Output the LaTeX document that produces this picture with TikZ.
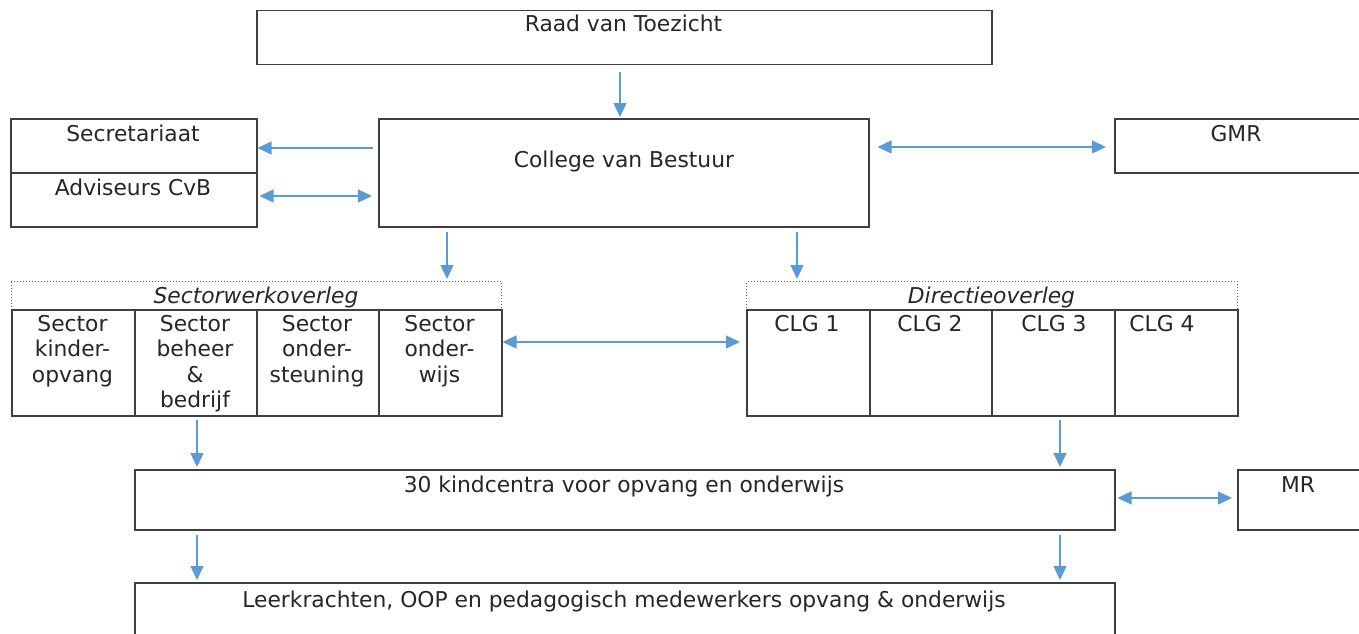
\documentclass[tikz,border=0pt]{standalone}
\usepackage{fontspec}
\setmainfont{DejaVu Sans}
\usetikzlibrary{arrows.meta}
\definecolor{arr}{HTML}{5B9BD5}
\definecolor{edge}{HTML}{3F3F3F}
\tikzset{
  box/.style={draw=edge, line width=1.5pt, inner sep=0pt, anchor=north west, fill=white},
  hdr/.style={draw=edge!80, dotted, line width=1pt, inner sep=0pt, anchor=north west},
  lbl/.style={font=\fontsize{21.8}{25.5}\selectfont, inner sep=0pt, align=center, anchor=base, text=black!85},
  mlbl/.style={lbl, anchor=north},
  ilbl/.style={lbl, font=\fontsize{21.8}{25.5}\selectfont\itshape},
  tip/.tip={Triangle[length=14pt,width=13pt]},
  conn/.style={draw=arr, line width=1.4pt, -tip},
  dconn/.style={draw=arr, line width=1.4pt, tip-tip},
}
\begin{document}
\begin{tikzpicture}[x=1pt,y=-1pt]
\useasboundingbox (0,0) rectangle (1359,634);
\clip (0,0) rectangle (1359,634);
% boxes
\node[box, minimum width=735pt, minimum height=54pt] (raad) at (256,10) {};
\node[box, minimum width=246pt, minimum height=54pt] (sec) at (10,118) {};
\node[box, minimum width=246pt, minimum height=54pt] (adv) at (10,172) {};
\node[box, minimum width=490pt, minimum height=108pt] (cvb) at (378,118) {};
\node[box, minimum width=246pt, minimum height=54pt] (gmr) at (1114,118) {};
% sector group
\node[hdr, minimum width=490pt, minimum height=28pt] (sw) at (11,281) {};
\node[box, minimum width=123pt, minimum height=106pt] (s1) at (11,309) {};
\node[box, minimum width=122pt, minimum height=106pt] (s2) at (134,309) {};
\node[box, minimum width=122pt, minimum height=106pt] (s3) at (256,309) {};
\node[box, minimum width=123pt, minimum height=106pt] (s4) at (378,309) {};
% directie group
\node[hdr, minimum width=491pt, minimum height=28pt] (do) at (746,281) {};
\node[box, minimum width=123pt, minimum height=106pt] (c1) at (746,309) {};
\node[box, minimum width=122pt, minimum height=106pt] (c2) at (869,309) {};
\node[box, minimum width=123pt, minimum height=106pt] (c3) at (991,309) {};
\node[box, minimum width=123pt, minimum height=106pt] (c4) at (1114,309) {};
% lower boxes
\node[box, minimum width=980pt, minimum height=60pt] (kc) at (134,469) {};
\node[box, minimum width=130pt, minimum height=60pt] (mr) at (1237,469) {};
\node[box, minimum width=980pt, minimum height=70pt] (leer) at (134,582) {};
% labels
\node[lbl] (traad) at (623.5,32) {Raad van Toezicht};
\node[lbl] (tsec) at (133,141) {Secretariaat};
\node[lbl] (tadv) at (133,195) {Adviseurs CvB};
\node[lbl] (tcvb) at (624,167) {College van Bestuur};
\node[lbl] (tgmr) at (1236,141) {GMR};
\node[ilbl] (tsw) at (256,303) {Sectorwerkoverleg};
\node[ilbl] (tdo) at (991.5,303) {Directieoverleg};
\node[mlbl] (ts1) at (72.5,315) {Sector\\kinder-\\opvang};
\node[mlbl] (ts2) at (195,315) {Sector\\beheer\\\&\\bedrijf};
\node[mlbl] (ts3) at (317,315) {Sector\\onder-\\steuning};
\node[mlbl] (ts4) at (439.5,315) {Sector\\onder-\\wijs};
\node[lbl] (tc1) at (807,331) {CLG 1};
\node[lbl] (tc2) at (930,331) {CLG 2};
\node[lbl] (tc3) at (1054,331) {CLG 3};
\node[lbl] (tc4) at (1162,331) {CLG 4};
\node[lbl] (tkc) at (624,492) {30 kindcentra voor opvang en onderwijs};
\node[lbl] (tmr) at (1298,492) {MR};
\node[lbl] (tleer) at (624,607) {Leerkrachten, OOP en pedagogisch medewerkers opvang \& onderwijs};
% connectors
\draw[conn, shorten <=6pt, shorten >=1pt] (raad.south -| 620,0) -- (cvb.north -| 620,0);
\draw[conn, shorten <=5pt] (cvb.west |- 0,148) -- (sec.east |- 0,148);
\draw[dconn, shorten <=2pt, shorten >=6pt] (adv.east |- 0,196) -- (cvb.west |- 0,196);
\draw[dconn, shorten <=8pt, shorten >=8pt] (cvb.east |- 0,147) -- (gmr.west |- 0,147);
\draw[conn, shorten <=4pt, shorten >=2pt] (cvb.south -| 447,0) -- (sw.north -| 447,0);
\draw[conn, shorten <=4pt, shorten >=2pt] (cvb.south -| 797,0) -- (do.north -| 797,0);
\draw[dconn, shorten >=6pt] (s4.east |- 0,342) -- (c1.west |- 0,342);
\draw[conn, shorten <=3pt, shorten >=2pt] (s2.south -| 197,0) -- (kc.north -| 197,0);
\draw[conn, shorten <=3pt, shorten >=2pt] (c3.south -| 1060,0) -- (kc.north -| 1060,0);
\draw[dconn, shorten <=2pt, shorten >=5pt] (kc.east |- 0,498) -- (mr.west |- 0,498);
\draw[conn, shorten <=4pt, shorten >=2pt] (kc.south -| 197,0) -- (leer.north -| 197,0);
\draw[conn, shorten <=4pt, shorten >=2pt] (kc.south -| 1060,0) -- (leer.north -| 1060,0);
\end{tikzpicture}
\end{document}
